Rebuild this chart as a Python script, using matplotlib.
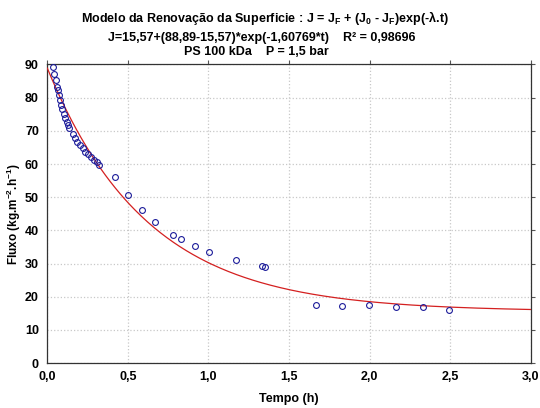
import numpy as np
import matplotlib
matplotlib.use("Agg")
import matplotlib.pyplot as plt
from matplotlib.ticker import FixedLocator, FuncFormatter

plt.rcParams['font.family'] = ['Liberation Sans', 'DejaVu Sans']
plt.rcParams['font.weight'] = 'bold'
plt.rcParams['mathtext.fontset'] = 'custom'
plt.rcParams['mathtext.rm'] = 'Liberation Sans:bold'
plt.rcParams['mathtext.it'] = 'Liberation Sans:bold'
plt.rcParams['mathtext.bf'] = 'Liberation Sans:bold'
plt.rcParams['mathtext.default'] = 'rm'

# Measured permeate flux (kg.m-2.h-1) versus time (h)
tempo = [0.033, 0.043, 0.052, 0.058, 0.064, 0.072, 0.079, 0.085, 0.093, 0.102,
         0.110, 0.120, 0.126, 0.136, 0.157, 0.172, 0.186, 0.202, 0.219, 0.235,
         0.254, 0.271, 0.289, 0.306, 0.322, 0.420, 0.502, 0.585, 0.667, 0.780,
         0.832, 0.919, 1.001, 1.168, 1.335, 1.350, 1.668, 1.829, 1.998, 2.163,
         2.328, 2.494]
fluxo = [89.2, 87.0, 85.2, 83.2, 82.2, 80.7, 79.2, 77.9, 76.7, 75.2,
         73.9, 72.7, 71.7, 70.9, 68.9, 67.7, 66.7, 65.7, 64.7, 63.6,
         62.9, 62.1, 61.1, 60.6, 59.6, 56.1, 50.6, 46.1, 42.4, 38.6,
         37.3, 35.2, 33.5, 31.0, 29.2, 29.0, 17.5, 17.1, 17.6, 17.0,
         16.9, 15.9]

# Surface renewal model parameters
J_F = 15.57
J_0 = 88.89
lam = 1.60769
r2 = "0,98696"

x_ticks = [0.0, 0.5, 1.0, 1.5, 2.0, 2.5, 3.0]
y_ticks = [0, 10, 20, 30, 40, 50, 60, 70, 80, 90]

fig = plt.figure(figsize=(5.40, 4.08), dpi=100)
ax = fig.add_axes([0.0876, 0.110, 0.8954, 0.732])

t_fit = np.linspace(0, 3.0, 300)
j_fit = J_F + (J_0 - J_F) * np.exp(-lam * t_fit)
ax.plot(t_fit, j_fit, color='#d42020', lw=0.9, zorder=3)

ax.plot(tempo, fluxo, linestyle='none', marker='o', markersize=4.2,
        markerfacecolor='none', markeredgecolor='#1c1c9a',
        markeredgewidth=0.8, zorder=4, clip_on=False)

ax.set_xlim(0, 3.0)
ax.set_ylim(0, 90)
ax.xaxis.set_major_locator(FixedLocator(x_ticks))
ax.yaxis.set_major_locator(FixedLocator(y_ticks))
ax.xaxis.set_major_formatter(FuncFormatter(lambda v, p: f"{v:.1f}".replace('.', ',')))
ax.yaxis.set_major_formatter(FuncFormatter(lambda v, p: f"{int(v)}"))

ax.grid(True, color='#c8c8c8', linestyle=':', linewidth=0.9)
ax.set_axisbelow(True)
for s in ax.spines.values():
    s.set_color('#333333')
    s.set_linewidth(0.9)

ax.tick_params(axis='both', which='both', labelsize=9, length=0, pad=3,
               colors='black')
ax.tick_params(top=True, right=True, direction='out', length=3, color='#555555')
ax.tick_params(bottom=False, left=False)
for lbl in ax.get_xticklabels() + ax.get_yticklabels():
    lbl.set_fontweight('bold')

ax.set_xlabel("Tempo (h)", fontsize=9, fontweight='bold', labelpad=7)
ax.set_ylabel("Fluxo (kg.m$^{-2}$.h$^{-1}$)", fontsize=8.5, fontweight='bold')
ax.yaxis.set_label_coords(-0.05, 0.5)

fig.text(0.49, 0.957,
         "Modelo da Renovação da Superficie : J = J$_{F}$ + (J$_{0}$ - J$_{F}$)exp(-λ.t)",
         ha='center', va='center', fontsize=9, fontweight='bold')
fig.text(0.485, 0.908,
         f"J=15,57+(88,89-15,57)*exp(-1,60769*t)    R² = {r2}",
         ha='center', va='center', fontsize=9, fontweight='bold')
fig.text(0.475, 0.873, "PS 100 kDa    P = 1,5 bar",
         ha='center', va='center', fontsize=9, fontweight='bold')

fig.savefig("out.png", dpi=100)
